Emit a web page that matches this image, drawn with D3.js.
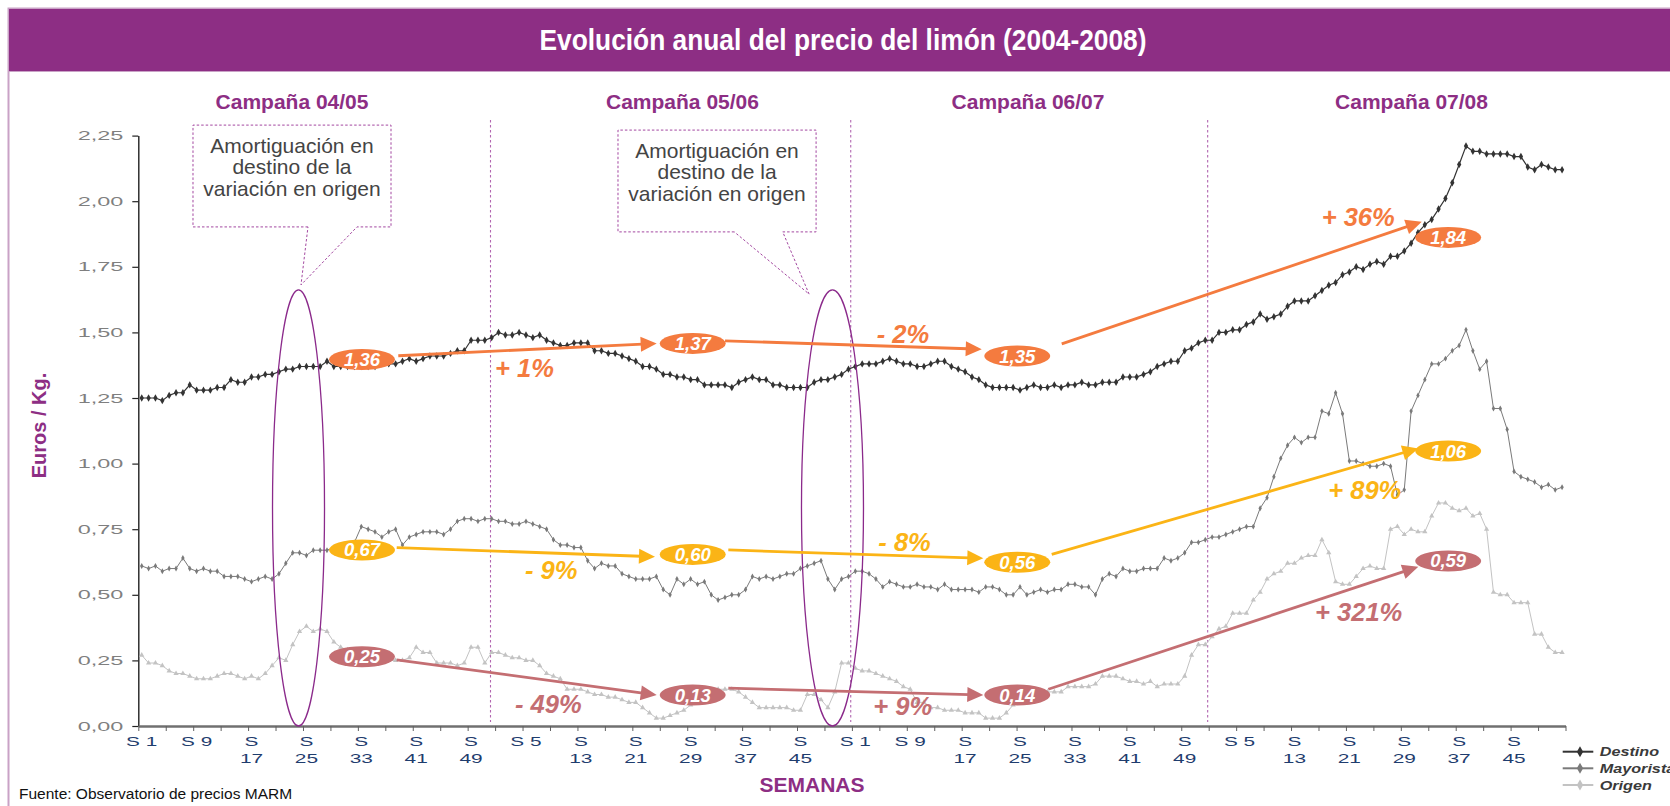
<!DOCTYPE html>
<html>
<head>
<meta charset="utf-8">
<script src="https://cdn.jsdelivr.net/npm/d3@7"></script>
<style>
  body { margin: 0; background: #fff; }
  svg { display: block; }
  text { font-family: "Liberation Sans", Arial, sans-serif; }
</style>
</head>
<body>
<svg id="chart" width="1670" height="806"></svg>
<script>
// ---------------- DATA ----------------
const seriesNames = ["Destino", "Mayorista", "Origen"];

// weekly prices (Euros/Kg), 4 campaigns x 52 weeks
const destino = [
  1.25,1.25,1.25,1.24,1.26,1.27,1.27,1.30,1.28,1.28,1.28,1.29,1.29,1.32,1.31,1.31,1.33,1.33,1.34,1.34,
  1.35,1.36,1.36,1.37,1.37,1.37,1.37,1.39,1.37,1.37,1.37,1.37,1.37,1.37,1.37,1.38,1.38,1.38,1.39,1.40,
  1.39,1.40,1.41,1.41,1.41,1.42,1.43,1.43,1.47,1.47,1.47,1.48,
  1.50,1.49,1.49,1.50,1.49,1.48,1.49,1.47,1.46,1.45,1.45,1.46,1.46,1.46,1.43,1.43,1.42,1.42,1.41,1.40,
  1.39,1.37,1.37,1.36,1.34,1.34,1.33,1.33,1.32,1.32,1.30,1.30,1.30,1.30,1.29,1.31,1.32,1.33,1.32,1.32,
  1.30,1.30,1.29,1.29,1.29,1.29,1.31,1.32,1.32,1.33,1.34,1.36,
  1.37,1.38,1.38,1.38,1.39,1.40,1.39,1.38,1.38,1.37,1.37,1.38,1.39,1.39,1.37,1.36,1.35,1.33,1.32,1.30,
  1.29,1.29,1.29,1.29,1.28,1.29,1.30,1.29,1.29,1.30,1.29,1.30,1.30,1.31,1.30,1.30,1.31,1.31,1.31,1.33,
  1.33,1.33,1.34,1.35,1.37,1.38,1.39,1.39,1.43,1.44,1.46,1.47,
  1.47,1.50,1.50,1.51,1.51,1.53,1.54,1.57,1.55,1.56,1.57,1.60,1.62,1.62,1.62,1.64,1.66,1.68,1.69,1.72,
  1.73,1.75,1.74,1.76,1.77,1.76,1.79,1.79,1.81,1.84,1.88,1.91,1.93,1.97,2.01,2.07,2.14,2.21,2.19,2.19,
  2.18,2.18,2.18,2.18,2.17,2.17,2.13,2.12,2.14,2.13,2.12,2.12
];
const mayorista = [
  0.61,0.60,0.61,0.59,0.60,0.60,0.64,0.60,0.59,0.60,0.59,0.59,0.57,0.57,0.57,0.56,0.55,0.56,0.57,0.56,
  0.58,0.62,0.66,0.66,0.65,0.67,0.67,0.67,0.68,0.68,0.69,0.70,0.76,0.75,0.74,0.72,0.74,0.75,0.69,0.72,
  0.73,0.74,0.74,0.74,0.73,0.75,0.78,0.79,0.79,0.78,0.79,0.79,
  0.78,0.78,0.77,0.77,0.78,0.77,0.76,0.75,0.71,0.69,0.69,0.68,0.68,0.63,0.60,0.62,0.61,0.61,0.58,0.57,
  0.56,0.56,0.56,0.57,0.52,0.50,0.56,0.54,0.56,0.54,0.55,0.50,0.48,0.49,0.50,0.50,0.52,0.57,0.56,0.57,
  0.56,0.57,0.58,0.58,0.60,0.61,0.62,0.63,0.56,0.52,0.56,0.57,
  0.59,0.59,0.58,0.56,0.53,0.55,0.54,0.53,0.53,0.54,0.53,0.53,0.52,0.54,0.52,0.52,0.52,0.52,0.51,0.53,
  0.53,0.52,0.50,0.50,0.53,0.50,0.51,0.52,0.51,0.52,0.52,0.54,0.54,0.53,0.53,0.50,0.56,0.58,0.57,0.60,
  0.59,0.59,0.60,0.60,0.60,0.64,0.63,0.64,0.66,0.70,0.70,0.71,
  0.72,0.72,0.73,0.74,0.75,0.76,0.76,0.83,0.87,0.95,1.02,1.07,1.10,1.08,1.10,1.10,1.20,1.19,1.27,1.19,
  1.01,1.01,1.00,0.99,0.99,1.00,0.99,0.88,0.90,1.20,1.26,1.32,1.38,1.38,1.40,1.43,1.45,1.51,1.43,1.36,
  1.39,1.21,1.21,1.13,0.97,0.95,0.94,0.93,0.91,0.92,0.90,0.91
];
const origen = [
  0.27,0.24,0.24,0.23,0.21,0.20,0.20,0.19,0.18,0.18,0.18,0.19,0.20,0.20,0.19,0.18,0.19,0.18,0.20,0.23,
  0.26,0.25,0.31,0.36,0.38,0.36,0.37,0.36,0.32,0.30,0.29,0.28,0.27,0.26,0.26,0.25,0.25,0.25,0.25,0.26,
  0.30,0.28,0.28,0.24,0.24,0.24,0.23,0.24,0.30,0.30,0.24,0.28,
  0.28,0.27,0.26,0.26,0.25,0.25,0.23,0.20,0.19,0.18,0.14,0.14,0.14,0.13,0.12,0.12,0.11,0.11,0.10,0.09,
  0.09,0.07,0.05,0.03,0.03,0.04,0.05,0.06,0.08,0.10,0.12,0.13,0.14,0.14,0.14,0.13,0.11,0.09,0.07,0.07,
  0.07,0.07,0.07,0.06,0.06,0.12,0.12,0.10,0.07,0.13,0.24,0.24,
  0.22,0.21,0.21,0.20,0.19,0.18,0.17,0.15,0.14,0.09,0.09,0.07,0.07,0.06,0.06,0.06,0.05,0.05,0.05,0.03,
  0.03,0.03,0.05,0.08,0.10,0.12,0.13,0.13,0.13,0.13,0.13,0.15,0.15,0.15,0.15,0.16,0.19,0.19,0.19,0.18,
  0.17,0.17,0.16,0.17,0.15,0.16,0.16,0.16,0.19,0.27,0.31,0.31,
  0.34,0.37,0.38,0.43,0.43,0.43,0.48,0.51,0.56,0.58,0.59,0.62,0.62,0.64,0.65,0.65,0.71,0.66,0.55,0.54,
  0.54,0.57,0.60,0.61,0.60,0.60,0.75,0.76,0.73,0.75,0.74,0.74,0.80,0.85,0.85,0.83,0.82,0.83,0.80,0.81,
  0.75,0.51,0.50,0.50,0.47,0.47,0.47,0.35,0.35,0.30,0.28,0.28
];

const weekTickLabels = [1,9,17,25,33,41,49,5,13,21,29,37,45,1,9,17,25,33,41,49,5,13,21,29,37,45];
const yTickValues = [0,0.25,0.5,0.75,1,1.25,1.5,1.75,2,2.25];
const campaigns = ["Campaña 04/05","Campaña 05/06","Campaña 06/07","Campaña 07/08"];

const annLabelsDest = ["1,36","1,37","1,35","1,84"];
const annLabelsMay  = ["0,67","0,60","0,56","1,06"];
const annLabelsOri  = ["0,25","0,13","0,14","0,59"];
const annPctDest = ["+ 1%","- 2%","+ 36%"];
const annPctMay  = ["- 9%","- 8%","+ 89%"];
const annPctOri  = ["- 49%","+ 9%","+ 321%"];

const titleText = "Evolución anual del precio del limón (2004-2008)";
const calloutText = ["Amortiguación en","destino de la","variación en origen"];

// ---------------- LAYOUT ----------------
const svg = d3.select("#chart");
const FONT = '"Liberation Sans", Arial, sans-serif';
const PURPLE = "#8D2E84";

const xs = d3.scaleLinear().domain([0, 208]).range([138.3, 1565.5]);
const ys = d3.scaleLinear().domain([0, 2.25]).range([726, 135.6]);
const px = i => xs(i + 0.5);

function stretch(sel, factor) {
  sel.each(function () {
    const w = this.getComputedTextLength();
    this.setAttribute("textLength", (w * factor).toFixed(1));
    this.setAttribute("lengthAdjust", "spacingAndGlyphs");
  });
}
function fitWidth(sel, width) {
  sel.attr("textLength", width).attr("lengthAdjust", "spacingAndGlyphs");
}

// frame + title bar
svg.append("rect").attr("x", 8.5).attr("y", 8.5).attr("width", 1700).attr("height", 900)
  .attr("fill", "#fff").attr("stroke", "#C9A2C6").attr("stroke-width", 2);
svg.append("rect").attr("x", 9).attr("y", 9).attr("width", 1670).attr("height", 62).attr("fill", PURPLE);
svg.append("line").attr("x1", 9).attr("x2", 1670).attr("y1", 71.5).attr("y2", 71.5)
  .attr("stroke", "#C9A2C6").attr("stroke-width", 1);
svg.append("text").attr("x", 843).attr("y", 50).attr("text-anchor", "middle")
  .attr("fill", "#fff").attr("font-size", 30).attr("font-weight", "bold").text(titleText).call(fitWidth, 607);

// campaign labels
const campaignPos = [22.4, 79.31, 129.67, 185.56];
svg.selectAll("text.camp").data(campaigns).join("text").attr("class", "camp")
  .attr("x", (d, i) => xs(campaignPos[i])).attr("y", 108.5).attr("text-anchor", "middle")
  .attr("fill", PURPLE).attr("font-weight", "bold").attr("font-size", 21).text(d => d);

// campaign separators
const sepPos = [51.33, 103.83, 155.85];
svg.selectAll("line.sep").data(sepPos).join("line").attr("class", "sep")
  .attr("x1", d => xs(d)).attr("x2", d => xs(d)).attr("y1", 120).attr("y2", 722)
  .attr("stroke", "#B266B0").attr("stroke-width", 1.1).attr("stroke-dasharray", "2.5,2.5");

// Y axis
const yAxis = svg.append("g").attr("transform", `translate(${xs(0)},0)`)
  .call(d3.axisLeft(ys).tickValues(yTickValues).tickSize(6).tickSizeOuter(0).tickPadding(9)
    .tickFormat(d => d.toFixed(2).replace(".", ",")));
yAxis.select(".domain").attr("stroke", "#222").attr("stroke-width", 1.4);
yAxis.selectAll(".tick line").attr("stroke", "#222").attr("stroke-width", 1.2);
yAxis.selectAll(".tick text").attr("fill", "#7f7f7f").attr("font-size", 13).attr("font-family", FONT)
  .call(stretch, 1.8);

// X axis
const xAxis = svg.append("g").attr("transform", `translate(0,${ys(0)})`)
  .call(d3.axisBottom(xs).tickValues(d3.range(0, 209, 4)).tickSize(5).tickSizeOuter(0).tickFormat(""));
xAxis.select(".domain").attr("stroke", "#707070").attr("stroke-width", 2.5);
xAxis.selectAll(".tick line").attr("stroke", "#606060").attr("stroke-width", 1);

const xl = svg.append("g");
weekTickLabels.forEach((w, k) => {
  const x = px(k * 8);
  if (w < 10) {
    xl.append("text").attr("x", x).attr("y", 746).attr("text-anchor", "middle")
      .attr("fill", "#1F3D6E").attr("font-size", 13).text("S " + w).call(stretch, 1.6);
  } else {
    xl.append("text").attr("x", x).attr("y", 746).attr("text-anchor", "middle")
      .attr("fill", "#1F3D6E").attr("font-size", 13).text("S").call(stretch, 1.6);
    xl.append("text").attr("x", x).attr("y", 762.5).attr("text-anchor", "middle")
      .attr("fill", "#1F3D6E").attr("font-size", 13).text(w).call(stretch, 1.6);
  }
});

// axis titles
svg.append("text").attr("transform", "translate(46,425.5) rotate(-90)").attr("text-anchor", "middle")
  .attr("fill", PURPLE).attr("font-weight", "bold").attr("font-size", 20).text("Euros / Kg.");
svg.append("text").attr("x", 812).attr("y", 791.5).attr("text-anchor", "middle")
  .attr("fill", PURPLE).attr("font-weight", "bold").attr("font-size", 21).text("SEMANAS");
svg.append("text").attr("x", 19).attr("y", 799).attr("fill", "#111").attr("font-size", 15.5)
  .text("Fuente: Observatorio de precios MARM");

// ---------------- SERIES ----------------
const seriesDefs = [
  { name: seriesNames[0], data: destino, color: "#333333", lw: 1.2, sym: d3.symbolDiamond, size: 16 },
  { name: seriesNames[1], data: mayorista, color: "#7a7a7a", lw: 1.0, sym: d3.symbolDiamond, size: 10 },
  { name: seriesNames[2], data: origen, color: "#c3c3c3", lw: 1.0, sym: d3.symbolTriangle, size: 12 }
];
const line = d3.line().x((d, i) => px(i)).y(d => ys(d));
seriesDefs.slice().reverse().forEach(s => {
  const g = svg.append("g");
  g.append("path").datum(s.data).attr("d", line).attr("fill", "none")
    .attr("stroke", s.color).attr("stroke-width", s.lw);
  g.selectAll("path.m").data(s.data).join("path").attr("class", "m")
    .attr("transform", (d, i) => `translate(${px(i)},${ys(d)})`)
    .attr("d", d3.symbol(s.sym, s.size)).attr("fill", s.color);
});

// ---------------- CALLOUTS & HIGHLIGHTS ----------------
const callouts = [
  { l: 7.97, r: 36.83, top: 2.290, bottom: 1.902, gap: [24.73, 31.87], tip: [23.71, 1.681] },
  { l: 69.91, r: 98.78, top: 2.271, bottom: 1.883, gap: [86.86, 93.92], tip: [97.76, 1.646] }
];
callouts.forEach(c => {
  const L = xs(c.l), R = xs(c.r), T = ys(c.top), B = ys(c.bottom);
  const p = d3.path();
  p.moveTo(xs(c.gap[0]), B); p.lineTo(L, B); p.lineTo(L, T); p.lineTo(R, T); p.lineTo(R, B);
  p.lineTo(xs(c.gap[1]), B); p.lineTo(xs(c.tip[0]), ys(c.tip[1])); p.closePath();
  svg.append("path").attr("d", p.toString()).attr("fill", "#fff").attr("stroke", "#A347A0")
    .attr("stroke-width", 1).attr("stroke-dasharray", "2.5,2");
  calloutText.forEach((t, k) => {
    svg.append("text").attr("x", (L + R) / 2).attr("y", T + 27.7 + k * 21.5).attr("text-anchor", "middle")
      .attr("fill", "#444").attr("font-size", 21).text(t);
  });
});

const highlights = [ { u: 23.35, rx: 26 }, { u: 101.17, rx: 31 } ];
highlights.forEach(h => {
  const top = ys(1.662), bot = ys(0);
  svg.append("ellipse").attr("cx", xs(h.u)).attr("cy", (top + bot) / 2).attr("rx", h.rx)
    .attr("ry", (bot - top) / 2).attr("fill", "none").attr("stroke", "#8B2A8B").attr("stroke-width", 1.3);
});

// ---------------- ANNOTATIONS ----------------
const labelXs = [32.6, 80.8, 128.1, 190.9];
const annGroups = [
  { labels: annLabelsDest, pct: annPctDest, color: "#F47B3F",
    ly: [1.397, 1.458, 1.410, 1.862],
    arrows: [[37.89, 1.411, 75.55, 1.458], [85.51, 1.468, 122.92, 1.436], [134.58, 1.456, 187.05, 1.922]],
    pctPos: [[51.99, 1.329], [107.61, 1.461], [172.47, 1.905]] },
  { labels: annLabelsMay, pct: annPctMay, color: "#FBB416",
    ly: [0.671, 0.654, 0.624, 1.048],
    arrows: [[37.66, 0.680, 75.30, 0.645], [85.99, 0.671, 123.15, 0.639], [133.12, 0.654, 186.55, 1.058]],
    pctPos: [[56.36, 0.559], [107.85, 0.667], [173.43, 0.864]] },
  { labels: annLabelsOri, pct: annPctOri, color: "#C46E72",
    ly: [0.264, 0.118, 0.118, 0.629],
    arrows: [[37.66, 0.252, 75.55, 0.118], [85.99, 0.144, 123.15, 0.118], [132.62, 0.140, 186.55, 0.607]],
    pctPos: [[54.90, 0.048], [107.12, 0.042], [171.50, 0.400]] }
];

annGroups.forEach(g => {
  g.arrows.forEach(a => {
    const x1 = xs(a[0]), y1 = ys(a[1]), x2 = xs(a[2]), y2 = ys(a[3]);
    const len = Math.hypot(x2 - x1, y2 - y1), ux = (x2 - x1) / len, uy = (y2 - y1) / len;
    const hl = 16, hw = 7.5;
    const bx = x2 - ux * hl, by = y2 - uy * hl;
    svg.append("line").attr("x1", x1).attr("y1", y1).attr("x2", bx + ux * 2).attr("y2", by + uy * 2)
      .attr("stroke", g.color).attr("stroke-width", 2.8);
    svg.append("path").attr("d", `M${x2},${y2}L${bx - uy * hw},${by + ux * hw}L${bx + uy * hw},${by - ux * hw}Z`)
      .attr("fill", g.color);
  });
  g.labels.forEach((t, k) => {
    const cx = xs(labelXs[k]), cy = ys(g.ly[k]);
    svg.append("ellipse").attr("cx", cx).attr("cy", cy).attr("rx", 33).attr("ry", 10.5).attr("fill", g.color);
    svg.append("text").attr("x", cx).attr("y", cy + 6.5).attr("text-anchor", "middle").attr("fill", "#fff")
      .attr("font-weight", "bold").attr("font-style", "italic").attr("font-size", 19).text(t).call(fitWidth, 36);
  });
  g.pct.forEach((t, k) => {
    svg.append("text").attr("x", xs(g.pctPos[k][0])).attr("y", ys(g.pctPos[k][1])).attr("fill", g.color)
      .attr("font-weight", "bold").attr("font-style", "italic").attr("font-size", 25.5).text(t);
  });
});

// ---------------- LEGEND ----------------
const legY = [751.7, 768.3, 785];
seriesDefs.forEach((s, k) => {
  const y = legY[k];
  svg.append("line").attr("x1", 1562.7).attr("x2", 1593.3).attr("y1", y).attr("y2", y)
    .attr("stroke", s.color).attr("stroke-width", 2);
  svg.append("path").attr("transform", `translate(1580,${y})`).attr("d", d3.symbol(d3.symbolDiamond, 34))
    .attr("fill", s.color);
  svg.append("text").attr("x", 1599.7).attr("y", y + 4.6).attr("fill", "#3a3a3a")
    .attr("font-weight", "bold").attr("font-style", "italic").attr("font-size", 13.5).text(s.name)
    .call(stretch, 1.2);
});
</script>
</body>
</html>
